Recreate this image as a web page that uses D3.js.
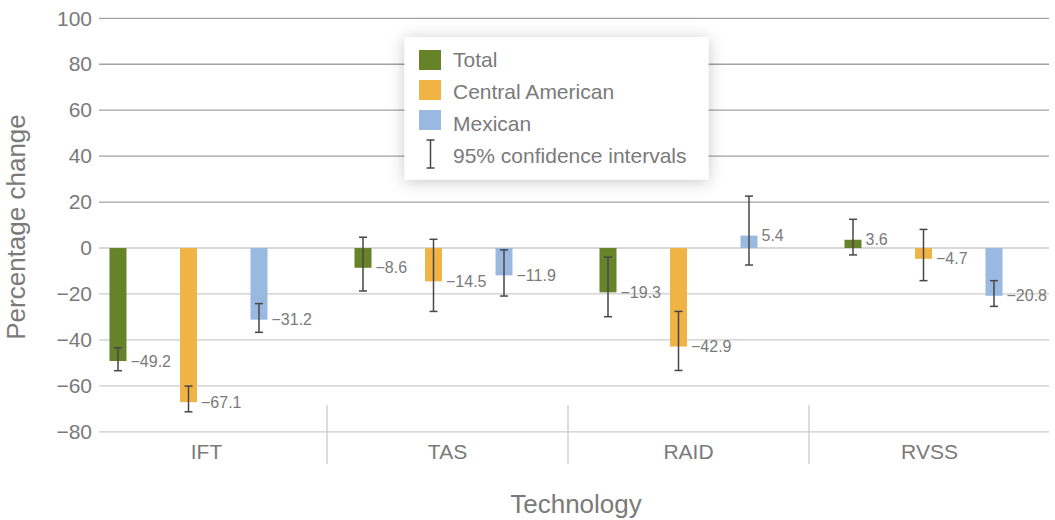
<!DOCTYPE html>
<html>
<head>
<meta charset="utf-8">
<script src="https://cdn.jsdelivr.net/npm/d3@7/dist/d3.min.js"></script>
<style>
  html, body { margin: 0; padding: 0; background: #fff; }
  svg { display: block; font-family: "Liberation Sans", Arial, Helvetica, sans-serif; }
</style>
</head>
<body>
<svg id="chart" width="1055" height="520"></svg>
<script>
// Percentage change by technology, with 95% confidence intervals
const categories = ["IFT", "TAS", "RAID", "RVSS"];
const seriesNames = ["Total", "Central American", "Mexican"];
const seriesColors = ["#67832a", "#f0b446", "#9ab9e0"];

// values per series, in category order
const totalValues   = [-49.2, -8.6, -19.3, 3.6];
const centralValues = [-67.1, -14.5, -42.9, -4.7];
const mexicanValues = [-31.2, -11.9, 5.4, -20.8];

// confidence interval bounds per series, in category order
const totalLow    = [-53.4, -18.7, -29.9, -3.0];
const totalHigh   = [-43.4, 4.7, -4.0, 12.5];
const centralLow  = [-71.3, -27.6, -53.3, -14.2];
const centralHigh = [-60.1, 3.8, -27.6, 8.1];
const mexicanLow  = [-36.7, -20.9, -7.4, -25.4];
const mexicanHigh = [-24.2, -0.8, 22.6, -14.2];

const yTicks = [-80, -60, -40, -20, 0, 20, 40, 60, 80, 100];

const valueTable = [totalValues, centralValues, mexicanValues];
const lowTable = [totalLow, centralLow, mexicanLow];
const highTable = [totalHigh, centralHigh, mexicanHigh];

const rows = [];
seriesNames.forEach((s, si) => {
  categories.forEach((c, ci) => {
    rows.push({ series: s, si, category: c,
      value: valueTable[si][ci], low: lowTable[si][ci], high: highTable[si][ci] });
  });
});

const svg = d3.select("#chart");
const plotLeft = 99, plotRight = 1049;
const textColor = "#7a7a7a";

const y = d3.scaleLinear().domain([-80, 100]).range([431.8, 18.3]);

// bar groups
const xGroup = d3.scaleBand().domain(categories).range([66, 1046]);
const xInner = d3.scalePoint().domain(seriesNames).range([52, 193]);
const barWidth = 17;
const color = d3.scaleOrdinal().domain(seriesNames).range(seriesColors);

// category label bands and separators
const xLabel = d3.scaleBand().domain(categories).range([86, 1050]);

// gridlines
svg.append("g")
  .selectAll("line")
  .data(yTicks)
  .join("line")
  .attr("x1", plotLeft).attr("x2", plotRight)
  .attr("y1", d => y(d)).attr("y2", d => y(d))
  .attr("stroke", d => d > 0 ? "#a2a2a2" : "#cbcbcb")
  .attr("stroke-width", 1.3);

// y axis labels
const yAxis = d3.axisLeft(y).tickValues(yTicks).tickSize(0).tickPadding(0)
  .tickFormat(d3.format("d"));
const yAxisG = svg.append("g").attr("transform", "translate(92,0)").call(yAxis);
yAxisG.select(".domain").remove();
yAxisG.selectAll("text")
  .attr("fill", textColor)
  .attr("font-size", 21)
  .attr("font-family", null);

// category separators
svg.append("g")
  .selectAll("line")
  .data(categories.slice(1))
  .join("line")
  .attr("x1", d => xLabel(d)).attr("x2", d => xLabel(d))
  .attr("y1", 405).attr("y2", 464)
  .attr("stroke", "#cbcbcb")
  .attr("stroke-width", 1.3);

// category labels
const xAxis = d3.axisBottom(xLabel).tickSize(0).tickPadding(0);
const xAxisG = svg.append("g").attr("transform", "translate(0,444)").call(xAxis);
xAxisG.select(".domain").remove();
xAxisG.selectAll("text")
  .attr("fill", textColor)
  .attr("font-size", 21)
  .attr("font-family", null)
  .attr("dy", "0.71em");

// bars
const barX = d => xGroup(d.category) + xInner(d.series) - barWidth / 2;
svg.append("g")
  .selectAll("rect")
  .data(rows)
  .join("rect")
  .attr("x", barX)
  .attr("width", barWidth)
  .attr("y", d => Math.min(y(d.value), y(0)))
  .attr("height", d => Math.abs(y(d.value) - y(0)))
  .attr("fill", d => color(d.series));

// error bars
const cx = d => xGroup(d.category) + xInner(d.series);
const capHalf = 4;
const err = svg.append("g").attr("stroke", "#474747").attr("stroke-width", 1.5);
err.selectAll("line.stem").data(rows).join("line").attr("class", "stem")
  .attr("x1", cx).attr("x2", cx)
  .attr("y1", d => y(d.low)).attr("y2", d => y(d.high));
err.selectAll("line.capLow").data(rows).join("line").attr("class", "capLow")
  .attr("x1", d => cx(d) - capHalf).attr("x2", d => cx(d) + capHalf)
  .attr("y1", d => y(d.low)).attr("y2", d => y(d.low));
err.selectAll("line.capHigh").data(rows).join("line").attr("class", "capHigh")
  .attr("x1", d => cx(d) - capHalf).attr("x2", d => cx(d) + capHalf)
  .attr("y1", d => y(d.high)).attr("y2", d => y(d.high));

// value labels
const fmt = d3.format(".1f");
svg.append("g")
  .selectAll("text")
  .data(rows)
  .join("text")
  .attr("x", d => barX(d) + barWidth + 4)
  .attr("y", d => y(d.value))
  .attr("dominant-baseline", "central")
  .attr("fill", textColor)
  .attr("font-size", 16)
  .text(d => fmt(d.value));

// axis titles
svg.append("text")
  .attr("x", (plotLeft + plotRight) / 2 + 2)
  .attr("y", 513)
  .attr("text-anchor", "middle")
  .attr("fill", textColor)
  .attr("font-size", 26)
  .text("Technology");

svg.append("text")
  .attr("transform", "translate(25,227) rotate(-90)")
  .attr("text-anchor", "middle")
  .attr("fill", textColor)
  .attr("font-size", 26)
  .text("Percentage change");

// legend
const defs = svg.append("defs");
const shadow = defs.append("filter").attr("id", "legendShadow")
  .attr("x", "-20%").attr("y", "-30%").attr("width", "140%").attr("height", "160%");
shadow.append("feDropShadow")
  .attr("dx", 0).attr("dy", 2)
  .attr("stdDeviation", 8)
  .attr("flood-color", "#000")
  .attr("flood-opacity", 0.22);

const legend = svg.append("g");
legend.append("rect")
  .attr("x", 404.5).attr("y", 37)
  .attr("width", 304).attr("height", 142.5)
  .attr("fill", "#fff")
  .attr("filter", "url(#legendShadow)");

const legendRow = d3.scalePoint().domain([0, 1, 2, 3]).range([59.5, 155]);
const swatchRow = d3.scalePoint().domain(seriesNames).range([50, 110]);

legend.selectAll("rect.swatch")
  .data(seriesNames)
  .join("rect").attr("class", "swatch")
  .attr("x", 419).attr("y", d => swatchRow(d))
  .attr("width", 22).attr("height", 20)
  .attr("fill", d => color(d));

const legendLabels = seriesNames.concat(["95% confidence intervals"]);
legend.selectAll("text")
  .data(legendLabels)
  .join("text")
  .attr("x", 453)
  .attr("y", (d, i) => legendRow(i))
  .attr("dominant-baseline", "central")
  .attr("fill", textColor)
  .attr("font-size", 21)
  .text(d => d);

// confidence interval symbol
const ciIcon = legend.append("g").attr("stroke", "#474747").attr("stroke-width", 1.5);
const iconX = 430.5, iconTop = 140, iconBottom = 168;
ciIcon.append("line").attr("x1", iconX).attr("x2", iconX).attr("y1", iconTop).attr("y2", iconBottom);
ciIcon.append("line").attr("x1", iconX - capHalf).attr("x2", iconX + capHalf).attr("y1", iconTop).attr("y2", iconTop);
ciIcon.append("line").attr("x1", iconX - capHalf).attr("x2", iconX + capHalf).attr("y1", iconBottom).attr("y2", iconBottom);
</script>
</body>
</html>
